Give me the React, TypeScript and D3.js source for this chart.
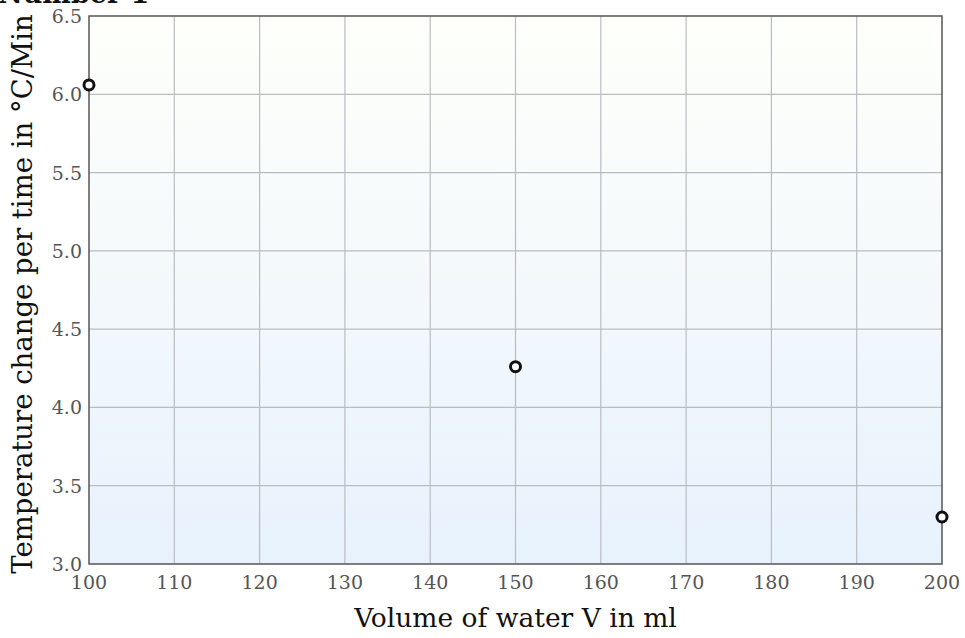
import React, { useEffect, useRef } from "react";
import * as d3 from "d3";

const volumes = [100, 150, 200];
const rates = [6.06, 4.26, 3.3];
const xTicks = [100, 110, 120, 130, 140, 150, 160, 170, 180, 190, 200];
const yTicks = [3.0, 3.5, 4.0, 4.5, 5.0, 5.5, 6.0, 6.5];

const App = () => {
  const svgRef = useRef<SVGSVGElement>(null);
  const width = 965;
  const height = 638;
  const margin = { top: 16, right: 23, bottom: 74, left: 89 };

  useEffect(() => {
    const svg = d3.select(svgRef.current);
    svg.selectAll("*").remove();
    const font = "'DejaVu Serif', serif";

    const x = d3.scaleLinear().domain([100, 200]).range([margin.left, width - margin.right]);
    const y = d3.scaleLinear().domain([3, 6.5]).range([height - margin.bottom, margin.top]);

    const defs = svg.append("defs");
    const grad = defs
      .append("linearGradient")
      .attr("id", "bg")
      .attr("x1", 0)
      .attr("y1", 0)
      .attr("x2", 0)
      .attr("y2", 1);
    grad.append("stop").attr("offset", "0%").attr("stop-color", "#fefffa");
    grad.append("stop").attr("offset", "100%").attr("stop-color", "#e8f2fd");

    svg
      .append("rect")
      .attr("x", x(100))
      .attr("y", y(6.5))
      .attr("width", x(200) - x(100))
      .attr("height", y(3) - y(6.5))
      .attr("fill", "url(#bg)");

    // grid
    svg
      .append("g")
      .selectAll("line")
      .data(xTicks.slice(1, -1))
      .enter()
      .append("line")
      .attr("x1", (d) => x(d))
      .attr("x2", (d) => x(d))
      .attr("y1", y(6.5))
      .attr("y2", y(3))
      .attr("stroke", "#b9bdc2")
      .attr("stroke-width", 1.2);

    svg
      .append("g")
      .selectAll("line")
      .data(yTicks.slice(1, -1))
      .enter()
      .append("line")
      .attr("x1", x(100))
      .attr("x2", x(200))
      .attr("y1", (d) => y(d))
      .attr("y2", (d) => y(d))
      .attr("stroke", "#b9bdc2")
      .attr("stroke-width", 1.2);

    svg
      .append("rect")
      .attr("x", x(100))
      .attr("y", y(6.5))
      .attr("width", x(200) - x(100))
      .attr("height", y(3) - y(6.5))
      .attr("fill", "none")
      .attr("stroke", "#555")
      .attr("stroke-width", 1.5);

    // tick labels
    svg
      .append("g")
      .selectAll("text")
      .data(xTicks)
      .enter()
      .append("text")
      .attr("x", (d) => x(d))
      .attr("y", height - margin.bottom + 25)
      .attr("text-anchor", "middle")
      .attr("font-family", font)
      .attr("font-size", 19)
      .attr("fill", "#555")
      .text((d) => d);

    svg
      .append("g")
      .selectAll("text")
      .data(yTicks)
      .enter()
      .append("text")
      .attr("x", margin.left - 7)
      .attr("y", (d) => y(d) + 7)
      .attr("text-anchor", "end")
      .attr("font-family", font)
      .attr("font-size", 19)
      .attr("fill", "#555")
      .text((d) => d3.format(".1f")(d));

    // axis titles
    svg
      .append("text")
      .attr("x", (x(100) + x(200)) / 2)
      .attr("y", 627)
      .attr("text-anchor", "middle")
      .attr("font-family", font)
      .attr("font-size", 26.5)
      .attr("fill", "#111")
      .text("Volume of water V in ml");

    svg
      .append("text")
      .attr("transform", `translate(32, ${(y(3) + y(6.5)) / 2 + 4}) rotate(-90)`)
      .attr("text-anchor", "middle")
      .attr("font-family", font)
      .attr("font-size", 27.5)
      .attr("fill", "#111")
      .text("Temperature change per time in °C/Min");

    // title (cut off at top)
    svg
      .append("text")
      .attr("x", -2)
      .attr("y", 3)
      .attr("font-family", font)
      .attr("font-size", 27)
      .attr("font-weight", "bold")
      .attr("fill", "#111")
      .text("Number 1");

    // points
    svg
      .append("g")
      .selectAll("circle")
      .data(volumes.map((v, i) => ({ v, r: rates[i] })))
      .enter()
      .append("circle")
      .attr("cx", (d) => x(d.v))
      .attr("cy", (d) => y(d.r))
      .attr("r", 5)
      .attr("fill", "#fff")
      .attr("stroke", "#111")
      .attr("stroke-width", 3);
  }, []);

  return (
    <svg
      ref={svgRef}
      width={width}
      height={height}
      style={{ position: "absolute", left: 0, top: 0, background: "#fff" }}
    />
  );
};

export default App;
